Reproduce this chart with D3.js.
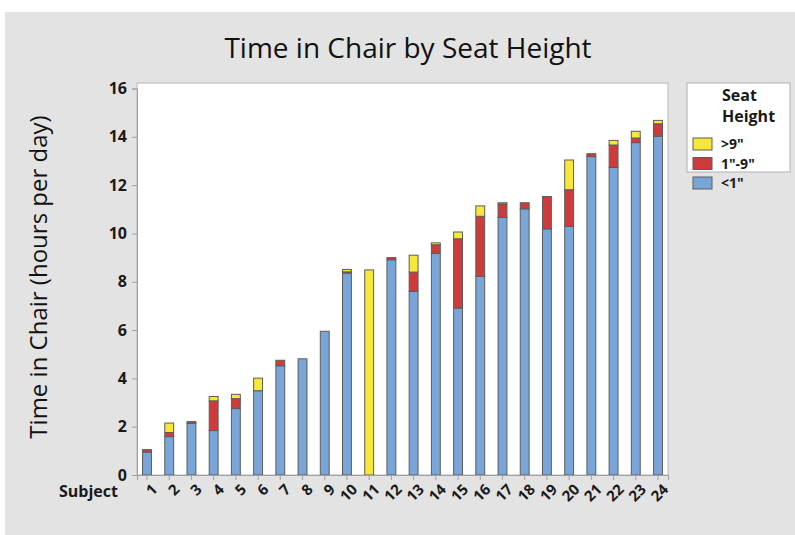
<!DOCTYPE html>
<html><head><meta charset="utf-8">
<script src="https://cdn.jsdelivr.net/npm/d3@7"></script>
<style>body{margin:0;background:#fff;} text{font-family:"Open Sans","Noto Sans",sans-serif;}</style>
</head><body><svg id="c" width="795" height="535"></svg>
<script>
const subjects = ["1","2","3","4","5","6","7","8","9","10","11","12","13","14","15","16","17","18","19","20","21","22","23","24"];
const below1 = [0.95,1.59,2.14,1.84,2.75,3.49,4.52,4.81,5.95,8.36,0,8.91,7.60,9.18,6.91,8.22,10.66,11.02,10.19,10.29,13.18,12.73,13.76,14.02];
const mid1to9 = [0.10,0.17,0.07,1.23,0.41,0,0.23,0,0,0.05,0,0.09,0.80,0.35,2.87,2.49,0.56,0.25,1.34,1.52,0.12,0.93,0.19,0.52];
const above9 = [0,0.39,0,0.18,0.18,0.52,0,0,0,0.10,8.49,0,0.70,0.08,0.28,0.43,0.05,0,0,1.23,0,0.19,0.28,0.14];
const seriesKeys = ["<1\"","1\"-9\"",">9\""];
const seriesColors = ["#7aa5d9","#cf3b3b","#f8e73b"];
const yTicks = [0,2,4,6,8,10,12,14,16];

const svg = d3.select("#c");
svg.append("rect").attr("x",5).attr("y",12).attr("width",790).attr("height",523).attr("fill","#e3e3e3");

const L=137,R=668,T=83,B=475;
svg.append("rect").attr("x",L).attr("y",T).attr("width",R-L).attr("height",B-T).attr("fill","#fff").attr("stroke","#b8b8b8");

const x = d3.scaleBand().domain(subjects).range([L,R]).paddingInner(0.6).paddingOuter(0.25);
const y = d3.scaleLinear().domain([0,16]).range([B,88.5]);

const table = subjects.map((s,i)=>({s, [seriesKeys[0]]:below1[i],[seriesKeys[1]]:mid1to9[i],[seriesKeys[2]]:above9[i]}));
const stack = d3.stack().keys(seriesKeys)(table);

stack.forEach((layer,k)=>{
  svg.append("g").selectAll("rect").data(layer.filter(d=>d[1]-d[0]>0)).join("rect")
    .attr("x",d=>x(d.data.s)).attr("width",x.bandwidth())
    .attr("y",d=>y(d[1])).attr("height",d=>y(d[0])-y(d[1]))
    .attr("fill",seriesColors[k]).attr("stroke","#5c5c5c").attr("stroke-width",1);
});

// y axis
const ya = svg.append("g").attr("transform",`translate(${L},0)`)
  .call(d3.axisLeft(y).tickValues(yTicks).tickSize(5).tickPadding(5));
ya.select(".domain").attr("stroke","#a0a0a0");
ya.selectAll(".tick line").attr("stroke","#a0a0a0");
ya.selectAll(".tick text").attr("font-size",16).attr("font-weight","bold").attr("fill","#1a1a1a");

// x axis
const xa = svg.append("g").attr("transform",`translate(0,${B})`)
  .call(d3.axisBottom(x).tickSize(5).tickPadding(4));
xa.select(".domain").attr("stroke","#a0a0a0");
xa.selectAll(".tick line").attr("stroke","#a0a0a0");
xa.selectAll(".tick text").attr("font-size",15).attr("font-weight","bold").attr("fill","#1a1a1a")
  .attr("text-anchor","end").attr("dy",0)
  .attr("transform","translate(5,9) rotate(-45)");

svg.append("text").attr("x",118).attr("y",497).attr("text-anchor","end")
  .attr("font-size",16).attr("font-weight","bold").attr("fill","#1a1a1a").text("Subject");

svg.append("text").attr("x",408).attr("y",58).attr("text-anchor","middle")
  .attr("font-size",28).attr("fill","#111").text("Time in Chair by Seat Height");

svg.append("text").attr("transform","translate(47,277) rotate(-90)").attr("text-anchor","middle")
  .attr("font-size",24).attr("fill","#111").text("Time in Chair (hours per day)");

// legend
const lg = svg.append("g");
lg.append("rect").attr("x",687).attr("y",83).attr("width",103).attr("height",89).attr("fill","#fff").attr("stroke","#b0b0b0");
lg.append("text").attr("x",722).attr("y",101).attr("font-size",16).attr("font-weight","bold").attr("fill","#1a1a1a").text("Seat");
lg.append("text").attr("x",722).attr("y",122).attr("font-size",16).attr("font-weight","bold").attr("fill","#1a1a1a").text("Height");
const order=[2,1,0];
order.forEach((k,i)=>{
  const yy=138+i*19.5;
  lg.append("rect").attr("x",693).attr("y",yy).attr("width",19).attr("height",12).attr("fill",seriesColors[k]).attr("stroke","#5c5c5c");
  lg.append("text").attr("x",721).attr("y",yy+11).attr("font-size",14).attr("font-weight","bold").attr("fill","#1a1a1a").text(seriesKeys[k]);
});
</script></body></html>
